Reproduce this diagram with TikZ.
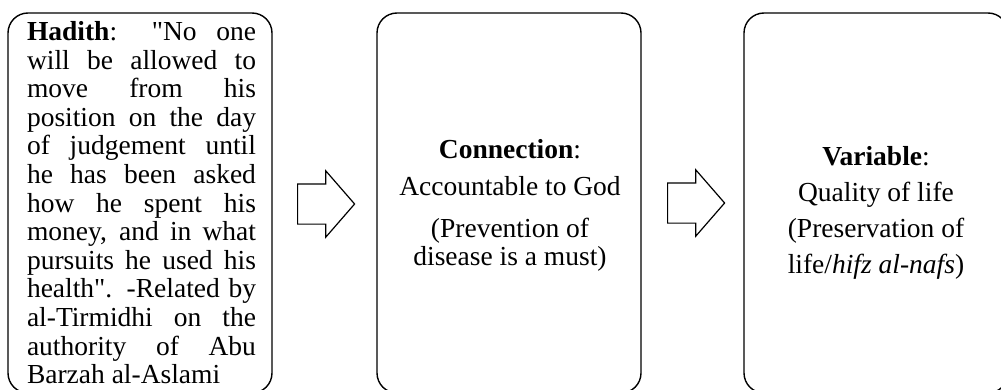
\documentclass[tikz,border=0pt]{standalone}
\usepackage{fontspec}
\setmainfont{Liberation Serif}
\usetikzlibrary{shapes.arrows}

\begin{document}
\begin{tikzpicture}[x=0.5pt,y=-0.5pt,
  panel/.style={draw, rounded corners=10pt, line width=0.7pt, minimum width=132pt, minimum height=190pt, inner sep=0pt},
  blockarrow/.style={draw, single arrow, single arrow head extend=6.5pt, single arrow tip angle=98, minimum height=28.5pt, minimum width=32.5pt, inner xsep=0pt, inner ysep=9.75pt, line width=0.6pt, anchor=tail},
  bodytext/.style={inner sep=0pt, anchor=north, font=\fontsize{13.75pt}{14.3pt}\selectfont}]
\clip (0,0) rectangle (1001,390);

\node[panel] (hadith) at (140,203) {};
\node[panel] (connection) at (509,203) {};
\node[panel] (variable) at (876,203) {};

\node[blockarrow] (arrowA) at (297,204) {};
\node[blockarrow] (arrowB) at (667,203) {};

\node[bodytext, text width=114.5pt, align=justify] (hadithtext) at (141.5,21) {\hyphenpenalty=10000 \textbf{Hadith}: \textquotedbl No one\linebreak will be allowed to\linebreak move from his\linebreak position on the day\linebreak of judgement until\linebreak he has been asked\linebreak how he spent his\linebreak money, and in what\linebreak pursuits he used his\linebreak health\textquotedbl. -Related by\linebreak al-Tirmidhi on the\linebreak authority of Abu\linebreak Barzah al-Aslami};

\node[bodytext, align=center, font=\fontsize{13.75pt}{14pt}\selectfont] (connectiontext) at (510,139.5) {\textbf{Connection}:\\[4.5pt] Accountable to God\\[7pt] (Prevention of\\ disease is a must)};

\node[bodytext, align=center, font=\fontsize{13.75pt}{18pt}\selectfont] (variabletext) at (876,146) {\textbf{Variable}:\\ Quality of life\\ (Preservation of\\ life/\textit{hifz al-nafs})};
\end{tikzpicture}
\end{document}
